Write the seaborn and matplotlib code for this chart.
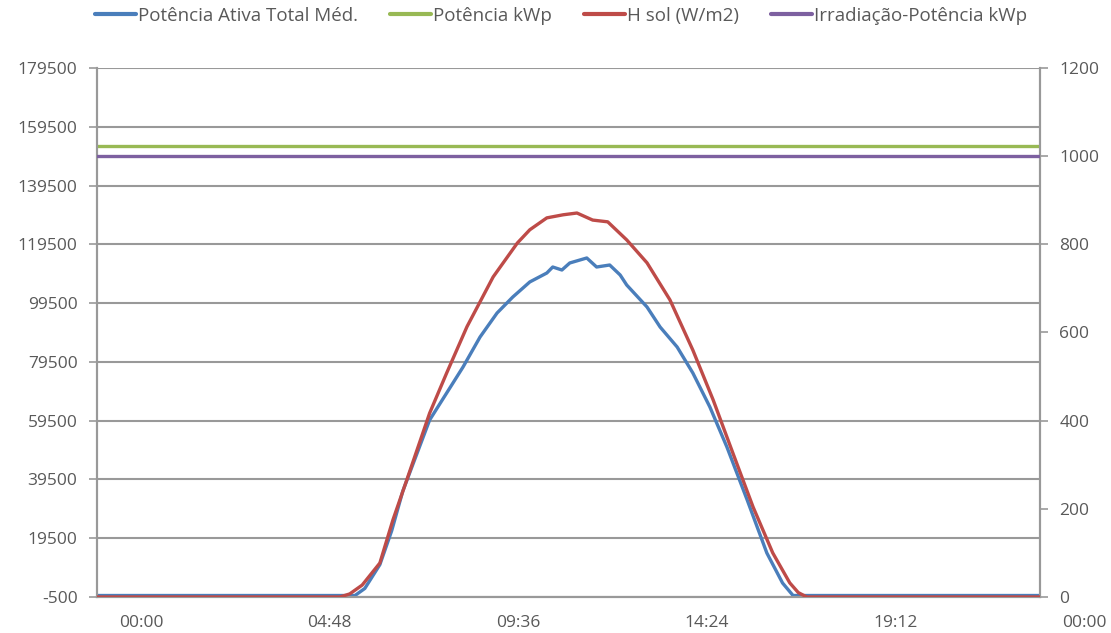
import matplotlib
matplotlib.use("Agg")
import matplotlib.pyplot as plt
import matplotlib.transforms as mtransforms
import seaborn as sns
import pandas as pd
from matplotlib.ticker import FixedLocator, FuncFormatter
from matplotlib.lines import Line2D

# ---- data (minutes since midnight) ----
blue_t = [0, 394, 409, 432, 450, 467, 508, 534, 559, 585, 611, 635, 661, 687, 696, 710, 722,
          748, 763, 783, 799, 809, 840, 860, 886, 910, 936, 962, 993, 1023, 1047, 1063, 1440]
blue_v = [0, 0, 2400, 10500, 22000, 35500, 59720, 68900, 77750, 87960, 96130, 101570, 106700,
          109740, 111780, 110760, 113150, 114850, 111780, 112460, 109060, 105650, 98170,
          91360, 84560, 75710, 64140, 50530, 32490, 14460, 4250, 0, 0]

red_t = [0, 371, 386, 405, 432, 452, 473, 508, 534, 565, 605, 642, 661, 687, 712, 733,
         757, 780, 809, 840, 875, 910, 941, 971, 1002, 1032, 1058, 1071, 1084, 1440]
red_v = [0, 0, 7, 27, 77, 175, 265, 417, 508, 613, 726, 803, 833, 860, 867, 871,
         855, 851, 810, 758, 674, 560, 447, 327, 204, 100, 32, 10, 0, 0]

kwp_t = [0, 1440]
kwp_v = [153000, 153000]
irr_t = [0, 1440]
irr_v = [1000, 1000]

left_ticks = [-500, 19500, 39500, 59500, 79500, 99500, 119500, 139500, 159500, 179500]
right_ticks = [0, 200, 400, 600, 800, 1000, 1200]
x_ticks = [0, 288, 576, 864, 1152, 1440]
x_labels = ["00:00", "04:48", "09:36", "14:24", "19:12", "00:00"]

names = ["Potência Ativa Total Méd.", "Potência kWp", "H sol (W/m2)", "Irradiação-Potência kWp"]
colors = ["#4a7ebb", "#98b954", "#be4b48", "#7d60a0"]

sns.set_style("white")
plt.rcParams['font.family'] = ['Open Sans', 'DejaVu Sans']
txt = "#595959"
gcol = "#999999"

fig = plt.figure(figsize=(11.11, 6.33), dpi=100)
ax = fig.add_axes([0.0873, 0.0569, 0.8487, 0.8357])
ax2 = ax.twinx()

df_b = pd.DataFrame({"t": blue_t, "v": blue_v})
df_r = pd.DataFrame({"t": red_t, "v": red_v})
df_k = pd.DataFrame({"t": kwp_t, "v": kwp_v})
df_i = pd.DataFrame({"t": irr_t, "v": irr_v})

lw = 2.4
sns.lineplot(data=df_b, x="t", y="v", ax=ax, color=colors[0], lw=lw, zorder=4)
sns.lineplot(data=df_k, x="t", y="v", ax=ax, color=colors[1], lw=lw, zorder=4)
sns.lineplot(data=df_r, x="t", y="v", ax=ax2, color=colors[2], lw=lw, zorder=3)
sns.lineplot(data=df_i, x="t", y="v", ax=ax2, color=colors[3], lw=lw, zorder=3)

ax.set_xlim(0, 1440)
ax.set_ylim(-500, 179500)
ax2.set_ylim(0, 1200)
ax.set_xlabel("")
ax.set_ylabel("")
ax2.set_ylabel("")

ax.yaxis.set_major_locator(FixedLocator(left_ticks))
ax.yaxis.set_major_formatter(FuncFormatter(lambda v, p: f"{int(v)}"))
ax2.yaxis.set_major_locator(FixedLocator(right_ticks))
ax2.yaxis.set_major_formatter(FuncFormatter(lambda v, p: f"{int(v)}"))
ax.xaxis.set_major_locator(FixedLocator(x_ticks))
ax.set_xticklabels(x_labels)

ax.grid(axis="y", color=gcol, lw=1.5)
ax.set_axisbelow(True)
for a in (ax, ax2):
    a.spines["top"].set_visible(False)
    for s in ("left", "right", "bottom"):
        a.spines[s].set_color(gcol)
        a.spines[s].set_linewidth(1.5)
fs = 12.5
ax.tick_params(axis="y", direction="out", length=6, width=1.2,
               color=gcol, labelcolor=txt, labelsize=fs, pad=8)
ax.tick_params(axis="x", direction="out", length=5, width=1.2,
               color=gcol, labelcolor=txt, labelsize=fs, pad=8)
ax2.tick_params(axis="y", direction="out", length=6, width=1.2, color=gcol,
                labelcolor=txt, labelsize=fs, pad=8)

# Excel places time labels to the right of their tick marks
offset = mtransforms.ScaledTranslation(0.44, 0, fig.dpi_scale_trans)
for lab in ax.get_xticklabels():
    lab.set_transform(lab.get_transform() + offset)

handles = [Line2D([0], [0], color=c, lw=3) for c in colors]
fig.legend(handles, names, loc="center", bbox_to_anchor=(0.505, 0.975), ncol=4,
           frameon=False, fontsize=13.5, labelcolor=txt, handlelength=2.2,
           handletextpad=0.1, columnspacing=1.7)

fig.savefig("out.png", dpi=100)
